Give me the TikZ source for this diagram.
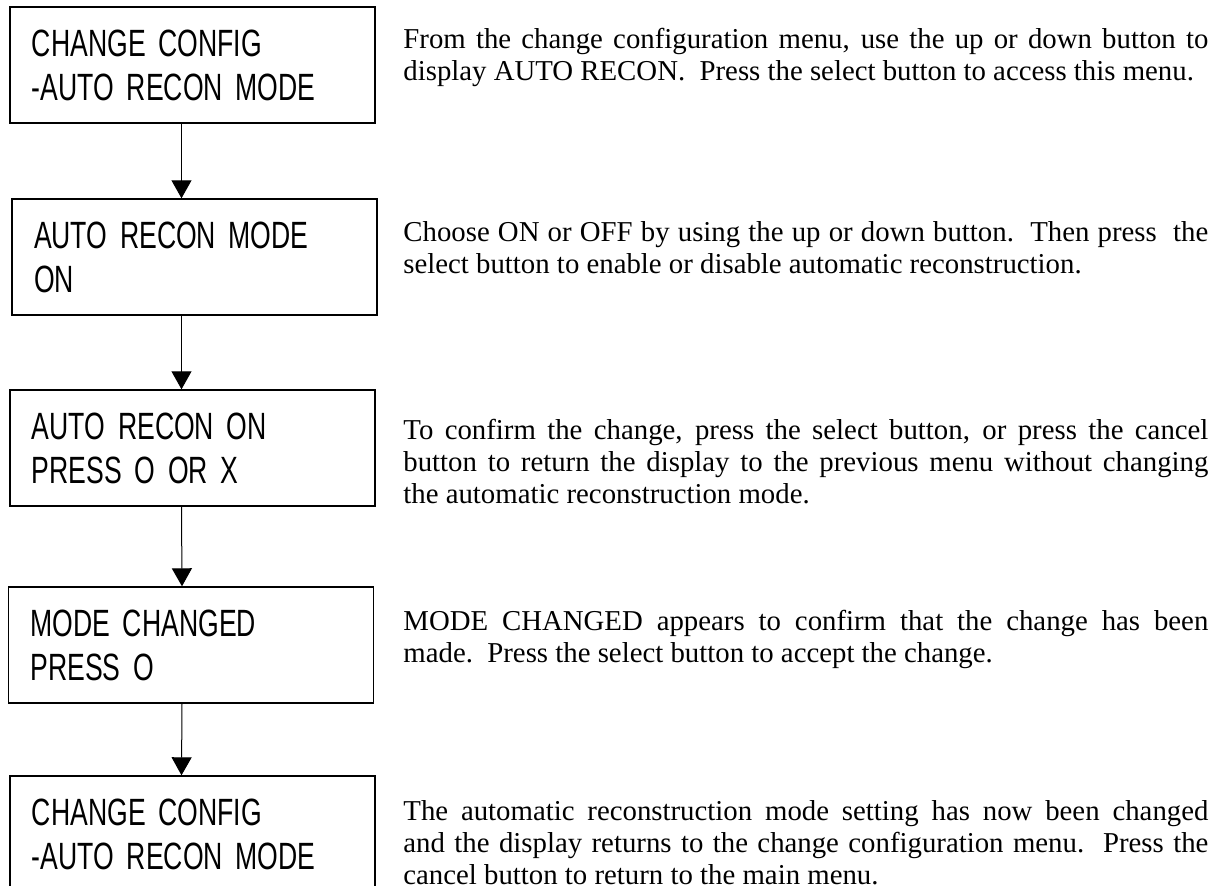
\documentclass[tikz,border=0pt]{standalone}
\usepackage{fontspec}
\setmainfont{Liberation Serif}
\newfontfamily\lcdfont[FakeStretch=0.7]{Liberation Sans}
\usetikzlibrary{arrows.meta}
\tikzset{
  screen/.style={draw=black, line width=0.7pt, minimum width=182.5pt, minimum height=58pt,
                 text width=160.5pt, inner xsep=11pt, align=left,
                 font=\lcdfont\fontsize{19}{22}\selectfont},
  note/.style={anchor=west, text width=402.5pt, inner sep=0pt, align=justify,
               font=\fontsize{14.4}{16}\selectfont},
  arr/.style={-{Triangle[length=9pt,width=10pt]}, line width=0.5pt},
}

\begin{document}
\begin{tikzpicture}[x=0.5pt, y=-0.5pt]
  \clip (0,0) rectangle (1230,886);

  % display screens
  \node[screen] (s1) at (192.5,65)  {CHANGE CONFIG\\-AUTO RECON MODE};
  \node[screen] (s2) at (194.5,257) {AUTO RECON MODE\\ON};
  \node[screen] (s3) at (192.5,448) {AUTO RECON ON\\PRESS O OR X};
  \node[screen] (s4) at (191,645)   {MODE CHANGED\\PRESS O};
  \node[screen] (s5) at (192.5,834) {CHANGE CONFIG\\-AUTO RECON MODE};

  \draw[arr] ([xshift=-5.5pt]s1.south) -- ([xshift=-6.5pt]s2.north);
  \draw[arr] ([xshift=-6.5pt]s2.south) -- ([xshift=-5.5pt]s3.north);
  \draw[arr] ([xshift=-5.5pt]s3.south) -- ([xshift=-4.5pt]s4.north);
  \draw[arr] ([xshift=-4.5pt]s4.south) -- ([xshift=-5.5pt]s5.north);

  % explanations
  \node[note] (n1) at (403,57)
    {From the change configuration menu, use the up or down button to\linebreak
     display AUTO RECON.\ \ Press the select button to access this menu.};
  \node[note] (n2) at (403,248)
    {Choose ON or OFF by using the up or down button.\ \ Then press\ \ the\linebreak
     select button to enable or disable automatic reconstruction.};
  \node[note] (n3) at (403,462)
    {To confirm the change, press the select button, or press the cancel\linebreak
     button to return the display to the previous menu without changing\linebreak
     the automatic reconstruction mode.};
  \node[note] (n4) at (403,639)
    {MODE CHANGED appears to confirm that the change has been\linebreak
     made.\ \ Press the select button to accept the change.};
  \node[note] (n5) at (403,843)
    {The automatic reconstruction mode setting has now been changed\linebreak
     and the display returns to the change configuration menu.\ \ Press the\linebreak
     cancel button to return to the main menu.};
\end{tikzpicture}
\end{document}
